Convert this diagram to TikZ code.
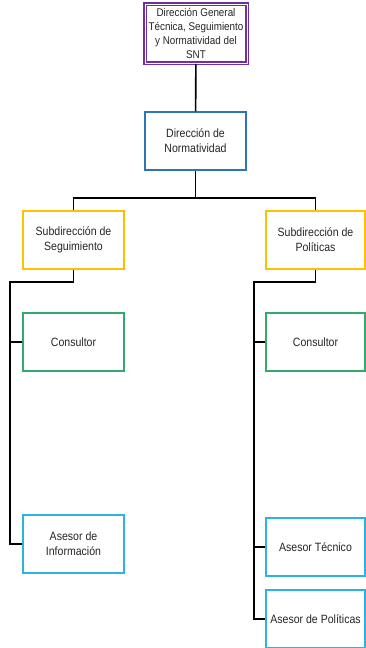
\documentclass[tikz,border=0pt]{standalone}
\usepackage{fontspec}
\setmainfont[FakeStretch=0.88]{Liberation Sans}
\definecolor{dirgen}{HTML}{7030A0}
\definecolor{dirnorm}{HTML}{2E75B6}
\definecolor{subdir}{HTML}{FFC000}
\definecolor{consult}{HTML}{33A96B}
\definecolor{asesor}{HTML}{2DB3E3}
\begin{document}
\begin{tikzpicture}[x=0.75pt,y=-0.75pt,
  box/.style={draw, line width=1.1pt, fill=white, align=center, inner sep=0pt,
    minimum width=75.75pt, minimum height=43.5pt, text=black!85,
    font=\fontsize{9}{11.4}\selectfont},
  topbox/.style={box, draw=dirgen, double=white, double distance=0.5pt,
    line width=1.3pt, minimum width=76.5pt, minimum height=44.25pt,
    font=\fontsize{8.4}{10.6}\selectfont},
  link/.style={line width=1.2pt, black}]
\useasboundingbox (0,0) rectangle (365,648);

% mandos
\node[topbox] (gral) at (196,33.5) {Dirección General\\Técnica, Seguimiento\\y Normatividad del\\SNT};
\node[box, draw=dirnorm] (norm) at (195.5,141) {Dirección de\\Normatividad};

% subdirecciones
\node[box, draw=subdir] (segui) at (73.5,240) {Subdirección de\\Seguimiento};
\node[box, draw=subdir, minimum width=74.25pt] (polit) at (315.5,240) {Subdirección de\\Políticas};

% personal de cada subdireccion
\node[box, draw=consult] (consA) at (73.5,342) {Consultor};
\node[box, draw=asesor] (info) at (73.5,544) {Asesor de\\Información};
\node[box, draw=consult, minimum width=74.25pt] (consB) at (315.5,342) {Consultor};
\node[box, draw=asesor, minimum width=74.25pt] (tecn) at (315.5,547) {Asesor Técnico};
\node[box, draw=asesor, minimum width=74.25pt] (aspol) at (315.5,619) {Asesor de Políticas};

\coordinate (bar) at (195.5,198);
\coordinate (ejeA) at (10,282);
\coordinate (ejeB) at (254,282);

\draw[link] (gral) -- (norm);
\draw[link] (norm) -- (bar);
\draw[link] (segui.north) |- (bar) -| (polit.north);

\draw[link] (segui.south) |- (ejeA) |- (info.west);
\draw[link] (consA.west) -- (consA.west -| ejeA);

\draw[link] (polit.south) |- (ejeB) |- (aspol.west);
\draw[link] (consB.west) -- (consB.west -| ejeB);
\draw[link] (tecn.west) -- (tecn.west -| ejeB);
\end{tikzpicture}
\end{document}
